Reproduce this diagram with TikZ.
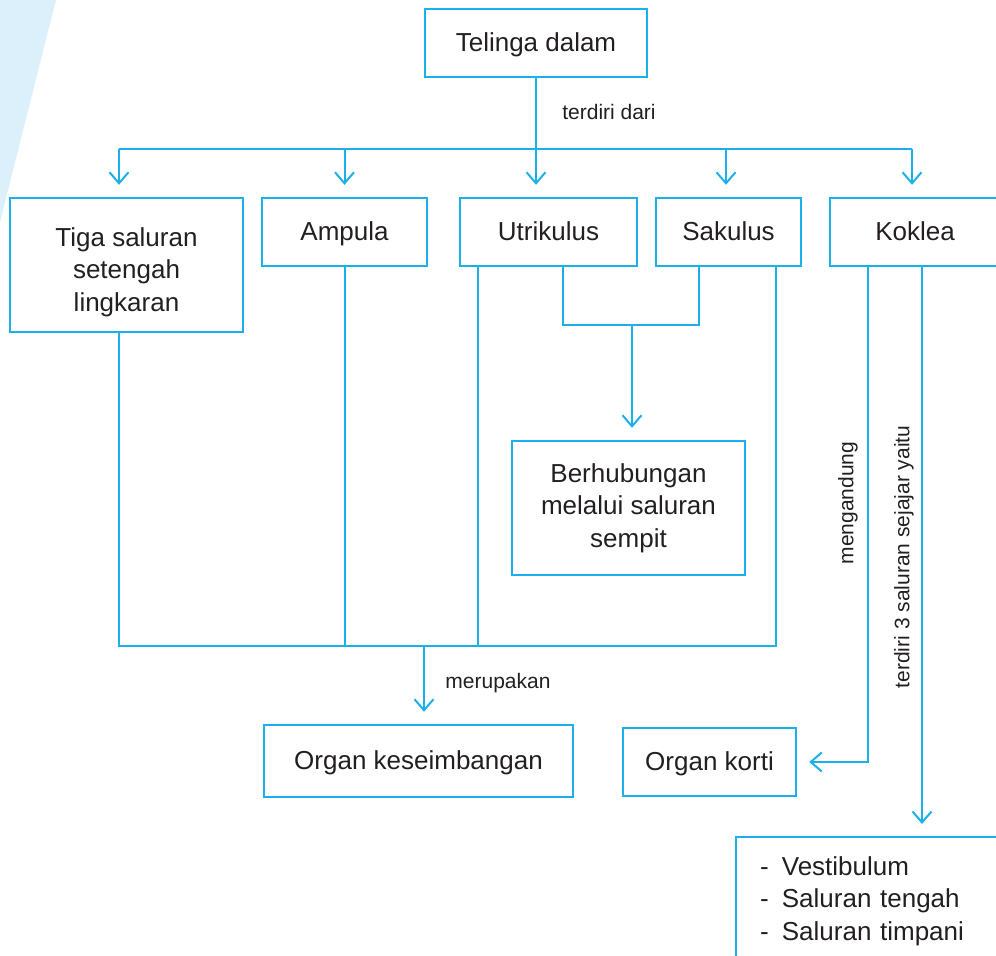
\documentclass[tikz,border=0pt]{standalone}
\usepackage{fontspec}
\setmainfont{Liberation Sans}
\usepackage{tikz}
\usetikzlibrary{arrows.meta, positioning, calc}
\definecolor{SkyLine}{HTML}{1BB0EA}
\definecolor{PaleSky}{HTML}{DCF0FB}
\definecolor{InkGray}{HTML}{231F20}
\tikzset{
  box/.style={draw=SkyLine, line width=1.2pt, text=InkGray, font=\fontsize{13}{16.25}\selectfont, align=center, inner sep=0pt},
  single/.style={box, text height=10.5pt, text depth=2pt},
  link/.style={draw=SkyLine, line width=1pt},
  arr/.style={link, -{Straight Barb[length=5.5pt,width=9.5pt,line width=1pt]}, shorten >=6pt},
  lbl/.style={text=InkGray, font=\fontsize{10.5}{12.6}\selectfont, inner sep=0pt}
}

\begin{document}
\begin{tikzpicture}[x=0.5pt, y=-0.5pt]
    \useasboundingbox (0,0) rectangle (996,956);
    \clip (0,0) rectangle (996,956);
    % Background stripe
    \fill[PaleSky] (0,0) -- (56,0) -- (0,222) -- cycle;

    % Boxes
    \node[single, minimum width=111pt, minimum height=34pt] (telinga) at (536,43) {Telinga dalam};
    \node[box, minimum width=116.5pt, minimum height=67pt,
        label={[text=InkGray, font=\fontsize{13}{16.25}\selectfont, align=center, inner sep=0pt, yshift=-3.5pt]center:Tiga saluran\\setengah\\lingkaran}] (tiga) at (126.5,265) {};
    \node[single, minimum width=82.5pt, minimum height=34pt] (ampula) at (344.5,232) {Ampula};
    \node[single, minimum width=88.5pt, minimum height=34pt] (utrikulus) at (548.5,232) {Utrikulus};
    \node[single, minimum width=72.5pt, minimum height=34pt] (sakulus) at (728.5,232) {Sakulus};
    \node[single, minimum width=85pt, minimum height=34pt] (koklea) at (915,232) {Koklea};
    \node[box, minimum width=116.5pt, minimum height=67pt] (berhubungan) at (628.5,508) {Berhubungan\\melalui saluran\\sempit};
    \node[single, minimum width=154.5pt, minimum height=36pt] (keseimbangan) at (418.5,761) {Organ keseimbangan};
    \node[single, minimum width=86.5pt, minimum height=34pt] (korti) at (709.5,762) {Organ korti};
    \node[box, anchor=north west, align=left, text width=120pt, inner xsep=12pt, minimum height=64pt] (saluran) at (735,836)
        {-\hspace{6.5pt}Vestibulum\\-\hspace{6.5pt}Saluran tengah\\-\hspace{6.5pt}Saluran timpani};

    % Fan out from Telinga dalam
    \coordinate (busTop) at (0,149);
    \draw[link] (telinga.south) -- (telinga.south |- busTop);
    \draw[link] ([xshift=-3.75pt]tiga.north |- busTop) -- ([xshift=-1.5pt]koklea.north |- busTop);
    \foreach \n/\dx in {tiga/-3.75pt, ampula/0pt, utrikulus/-6.25pt, sakulus/-1.25pt, koklea/-1.5pt} {
        \draw[arr] ([xshift=\dx]\n.north |- busTop) -- ([xshift=\dx]\n.north);
    }
    \node[lbl] (terdiri) at (609,112) {terdiri dari};

    % Utrikulus and Sakulus joined
    \coordinate (joint) at (0,325);
    \draw[link] ([xshift=7.25pt]utrikulus.south) -- ([xshift=7.25pt]utrikulus.south |- joint)
        -- ([xshift=-14.75pt]sakulus.south |- joint) -- ([xshift=-14.75pt]sakulus.south);
    \draw[arr] ([xshift=1.75pt]berhubungan.north |- joint) -- ([xshift=1.75pt]berhubungan.north);

    % Collected into Organ keseimbangan
    \coordinate (busLow) at (0,646);
    \draw[link] ([xshift=-3.75pt]tiga.south) -- ([xshift=-3.75pt]tiga.south |- busLow)
        -- ([xshift=23.75pt]sakulus.south |- busLow) -- ([xshift=23.75pt]sakulus.south);
    \draw[link] (ampula.south) -- (ampula.south |- busLow);
    \draw[link] ([xshift=-35.25pt]utrikulus.south) -- ([xshift=-35.25pt]utrikulus.south |- busLow);
    \draw[arr] ([xshift=2.75pt]keseimbangan.north |- busLow) -- ([xshift=2.75pt]keseimbangan.north);
    \node[lbl] (merupakan) at (498,683) {merupakan};

    % Koklea branches
    \draw[arr] ([xshift=-23.5pt]koklea.south) |- (korti.east);
    \draw[arr] ([xshift=3.5pt]koklea.south) -- ([xshift=3.5pt]koklea.south |- saluran.north);
    \node[lbl, rotate=90] (mengandung) at (848,503) {mengandung};
    \node[lbl, rotate=90] (sejajar) at (904,557) {terdiri 3 saluran sejajar yaitu};
\end{tikzpicture}
\end{document}
